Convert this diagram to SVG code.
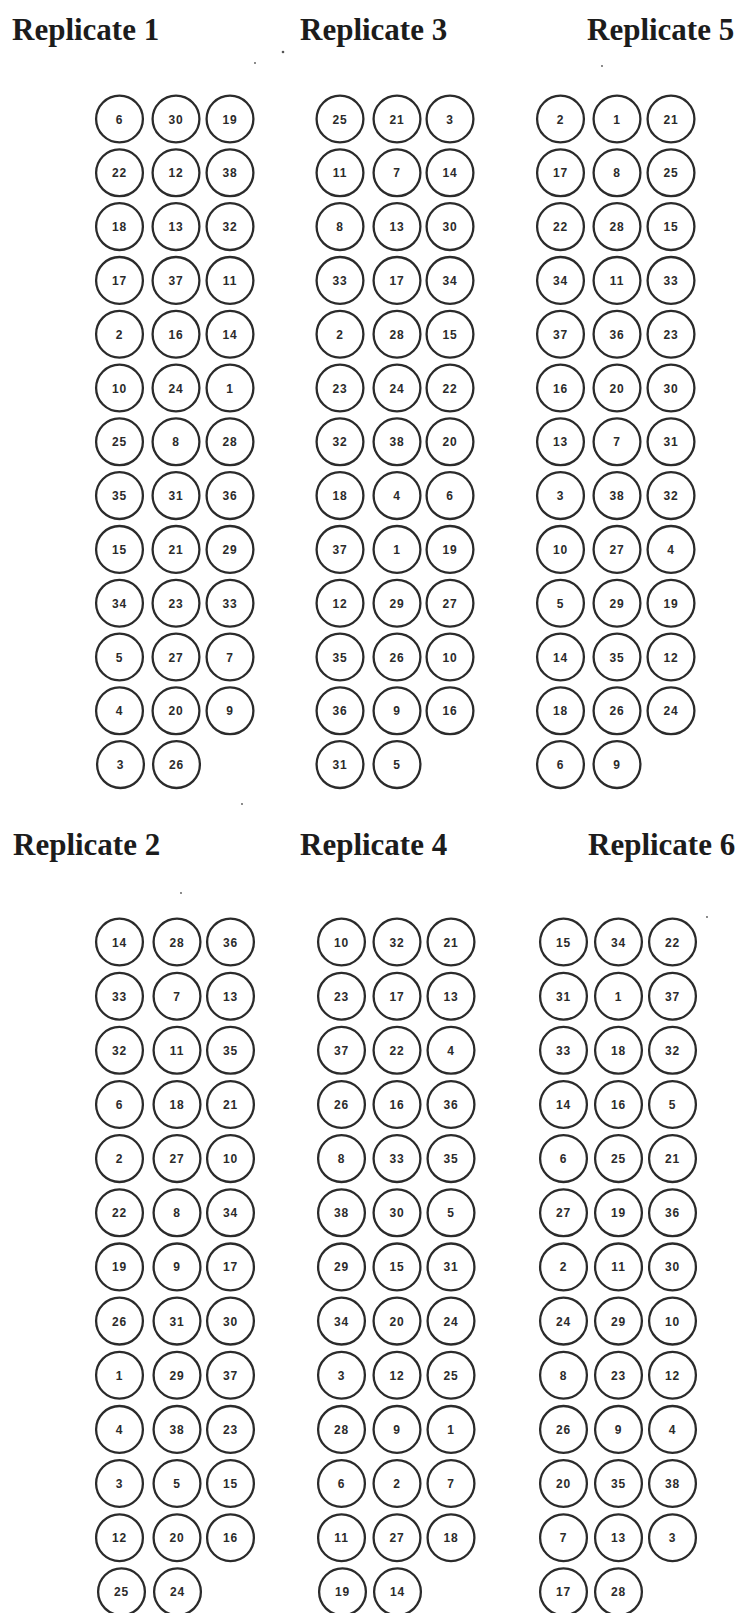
<svg xmlns="http://www.w3.org/2000/svg" width="740" height="1613" viewBox="0 0 740 1613">
<style>
.h{font-family:"Liberation Serif","Times New Roman",serif;font-weight:bold;font-size:31px;fill:#1c1c1c}
.n circle{fill:#fff;stroke:#2b2b2b;stroke-width:2.3}
.n text{font-family:"Liberation Sans",Arial,sans-serif;font-weight:bold;font-size:12px;fill:#2b2b2b;text-anchor:middle;letter-spacing:0.8px}
.dot{fill:#555}
</style>
<rect width="740" height="1613" fill="#fff"/>
<g id="headings">
<text class="h" x="12" y="40">Replicate 1</text>
<text class="h" x="300" y="40">Replicate 3</text>
<text class="h" x="587" y="40">Replicate 5</text>
<text class="h" x="13" y="855">Replicate 2</text>
<text class="h" x="300" y="855">Replicate 4</text>
<text class="h" x="588" y="855">Replicate 6</text>
</g>
<g id="specks">
<circle class="dot" cx="283" cy="52" r="1.3"/>
<circle class="dot" cx="255" cy="63" r="0.9"/>
<circle class="dot" cx="602" cy="66" r="0.9"/>
<circle class="dot" cx="242" cy="804" r="0.9"/>
<circle class="dot" cx="181" cy="893" r="0.9"/>
<circle class="dot" cx="707" cy="917" r="0.9"/>
</g>
<g id="connectors"></g>
<g id="replicate1">
<g id="r1-6" class="n" transform="translate(119.5,119)"><circle r="23.4"/><text y="4.5">6</text></g>
<g id="r1-30" class="n" transform="translate(176,119)"><circle r="23.4"/><text y="4.5">30</text></g>
<g id="r1-19" class="n" transform="translate(230,119)"><circle r="23.4"/><text y="4.5">19</text></g>
<g id="r1-22" class="n" transform="translate(119.5,172.8)"><circle r="23.4"/><text y="4.5">22</text></g>
<g id="r1-12" class="n" transform="translate(176,172.8)"><circle r="23.4"/><text y="4.5">12</text></g>
<g id="r1-38" class="n" transform="translate(230,172.8)"><circle r="23.4"/><text y="4.5">38</text></g>
<g id="r1-18" class="n" transform="translate(119.5,226.6)"><circle r="23.4"/><text y="4.5">18</text></g>
<g id="r1-13" class="n" transform="translate(176,226.6)"><circle r="23.4"/><text y="4.5">13</text></g>
<g id="r1-32" class="n" transform="translate(230,226.6)"><circle r="23.4"/><text y="4.5">32</text></g>
<g id="r1-17" class="n" transform="translate(119.5,280.4)"><circle r="23.4"/><text y="4.5">17</text></g>
<g id="r1-37" class="n" transform="translate(176,280.4)"><circle r="23.4"/><text y="4.5">37</text></g>
<g id="r1-11" class="n" transform="translate(230,280.4)"><circle r="23.4"/><text y="4.5">11</text></g>
<g id="r1-2" class="n" transform="translate(119.5,334.2)"><circle r="23.4"/><text y="4.5">2</text></g>
<g id="r1-16" class="n" transform="translate(176,334.2)"><circle r="23.4"/><text y="4.5">16</text></g>
<g id="r1-14" class="n" transform="translate(230,334.2)"><circle r="23.4"/><text y="4.5">14</text></g>
<g id="r1-10" class="n" transform="translate(119.5,388)"><circle r="23.4"/><text y="4.5">10</text></g>
<g id="r1-24" class="n" transform="translate(176,388)"><circle r="23.4"/><text y="4.5">24</text></g>
<g id="r1-1" class="n" transform="translate(230,388)"><circle r="23.4"/><text y="4.5">1</text></g>
<g id="r1-25" class="n" transform="translate(119.5,441.8)"><circle r="23.4"/><text y="4.5">25</text></g>
<g id="r1-8" class="n" transform="translate(176,441.8)"><circle r="23.4"/><text y="4.5">8</text></g>
<g id="r1-28" class="n" transform="translate(230,441.8)"><circle r="23.4"/><text y="4.5">28</text></g>
<g id="r1-35" class="n" transform="translate(119.5,495.6)"><circle r="23.4"/><text y="4.5">35</text></g>
<g id="r1-31" class="n" transform="translate(176,495.6)"><circle r="23.4"/><text y="4.5">31</text></g>
<g id="r1-36" class="n" transform="translate(230,495.6)"><circle r="23.4"/><text y="4.5">36</text></g>
<g id="r1-15" class="n" transform="translate(119.5,549.4)"><circle r="23.4"/><text y="4.5">15</text></g>
<g id="r1-21" class="n" transform="translate(176,549.4)"><circle r="23.4"/><text y="4.5">21</text></g>
<g id="r1-29" class="n" transform="translate(230,549.4)"><circle r="23.4"/><text y="4.5">29</text></g>
<g id="r1-34" class="n" transform="translate(119.5,603.2)"><circle r="23.4"/><text y="4.5">34</text></g>
<g id="r1-23" class="n" transform="translate(176,603.2)"><circle r="23.4"/><text y="4.5">23</text></g>
<g id="r1-33" class="n" transform="translate(230,603.2)"><circle r="23.4"/><text y="4.5">33</text></g>
<g id="r1-5" class="n" transform="translate(119.5,657)"><circle r="23.4"/><text y="4.5">5</text></g>
<g id="r1-27" class="n" transform="translate(176,657)"><circle r="23.4"/><text y="4.5">27</text></g>
<g id="r1-7" class="n" transform="translate(230,657)"><circle r="23.4"/><text y="4.5">7</text></g>
<g id="r1-4" class="n" transform="translate(119.5,710.8)"><circle r="23.4"/><text y="4.5">4</text></g>
<g id="r1-20" class="n" transform="translate(176,710.8)"><circle r="23.4"/><text y="4.5">20</text></g>
<g id="r1-9" class="n" transform="translate(230,710.8)"><circle r="23.4"/><text y="4.5">9</text></g>
<g id="r1-3" class="n" transform="translate(120.5,764.6)"><circle r="23.4"/><text y="4.5">3</text></g>
<g id="r1-26" class="n" transform="translate(176.5,764.6)"><circle r="23.4"/><text y="4.5">26</text></g>
</g>
<g id="replicate3">
<g id="r3-25" class="n" transform="translate(340,119)"><circle r="23.4"/><text y="4.5">25</text></g>
<g id="r3-21" class="n" transform="translate(397,119)"><circle r="23.4"/><text y="4.5">21</text></g>
<g id="r3-3" class="n" transform="translate(450,119)"><circle r="23.4"/><text y="4.5">3</text></g>
<g id="r3-11" class="n" transform="translate(340,172.8)"><circle r="23.4"/><text y="4.5">11</text></g>
<g id="r3-7" class="n" transform="translate(397,172.8)"><circle r="23.4"/><text y="4.5">7</text></g>
<g id="r3-14" class="n" transform="translate(450,172.8)"><circle r="23.4"/><text y="4.5">14</text></g>
<g id="r3-8" class="n" transform="translate(340,226.6)"><circle r="23.4"/><text y="4.5">8</text></g>
<g id="r3-13" class="n" transform="translate(397,226.6)"><circle r="23.4"/><text y="4.5">13</text></g>
<g id="r3-30" class="n" transform="translate(450,226.6)"><circle r="23.4"/><text y="4.5">30</text></g>
<g id="r3-33" class="n" transform="translate(340,280.4)"><circle r="23.4"/><text y="4.5">33</text></g>
<g id="r3-17" class="n" transform="translate(397,280.4)"><circle r="23.4"/><text y="4.5">17</text></g>
<g id="r3-34" class="n" transform="translate(450,280.4)"><circle r="23.4"/><text y="4.5">34</text></g>
<g id="r3-2" class="n" transform="translate(340,334.2)"><circle r="23.4"/><text y="4.5">2</text></g>
<g id="r3-28" class="n" transform="translate(397,334.2)"><circle r="23.4"/><text y="4.5">28</text></g>
<g id="r3-15" class="n" transform="translate(450,334.2)"><circle r="23.4"/><text y="4.5">15</text></g>
<g id="r3-23" class="n" transform="translate(340,388)"><circle r="23.4"/><text y="4.5">23</text></g>
<g id="r3-24" class="n" transform="translate(397,388)"><circle r="23.4"/><text y="4.5">24</text></g>
<g id="r3-22" class="n" transform="translate(450,388)"><circle r="23.4"/><text y="4.5">22</text></g>
<g id="r3-32" class="n" transform="translate(340,441.8)"><circle r="23.4"/><text y="4.5">32</text></g>
<g id="r3-38" class="n" transform="translate(397,441.8)"><circle r="23.4"/><text y="4.5">38</text></g>
<g id="r3-20" class="n" transform="translate(450,441.8)"><circle r="23.4"/><text y="4.5">20</text></g>
<g id="r3-18" class="n" transform="translate(340,495.6)"><circle r="23.4"/><text y="4.5">18</text></g>
<g id="r3-4" class="n" transform="translate(397,495.6)"><circle r="23.4"/><text y="4.5">4</text></g>
<g id="r3-6" class="n" transform="translate(450,495.6)"><circle r="23.4"/><text y="4.5">6</text></g>
<g id="r3-37" class="n" transform="translate(340,549.4)"><circle r="23.4"/><text y="4.5">37</text></g>
<g id="r3-1" class="n" transform="translate(397,549.4)"><circle r="23.4"/><text y="4.5">1</text></g>
<g id="r3-19" class="n" transform="translate(450,549.4)"><circle r="23.4"/><text y="4.5">19</text></g>
<g id="r3-12" class="n" transform="translate(340,603.2)"><circle r="23.4"/><text y="4.5">12</text></g>
<g id="r3-29" class="n" transform="translate(397,603.2)"><circle r="23.4"/><text y="4.5">29</text></g>
<g id="r3-27" class="n" transform="translate(450,603.2)"><circle r="23.4"/><text y="4.5">27</text></g>
<g id="r3-35" class="n" transform="translate(340,657)"><circle r="23.4"/><text y="4.5">35</text></g>
<g id="r3-26" class="n" transform="translate(397,657)"><circle r="23.4"/><text y="4.5">26</text></g>
<g id="r3-10" class="n" transform="translate(450,657)"><circle r="23.4"/><text y="4.5">10</text></g>
<g id="r3-36" class="n" transform="translate(340,710.8)"><circle r="23.4"/><text y="4.5">36</text></g>
<g id="r3-9" class="n" transform="translate(397,710.8)"><circle r="23.4"/><text y="4.5">9</text></g>
<g id="r3-16" class="n" transform="translate(450,710.8)"><circle r="23.4"/><text y="4.5">16</text></g>
<g id="r3-31" class="n" transform="translate(340,764.6)"><circle r="23.4"/><text y="4.5">31</text></g>
<g id="r3-5" class="n" transform="translate(397,764.6)"><circle r="23.4"/><text y="4.5">5</text></g>
</g>
<g id="replicate5">
<g id="r5-2" class="n" transform="translate(560.5,119)"><circle r="23.4"/><text y="4.5">2</text></g>
<g id="r5-1" class="n" transform="translate(617,119)"><circle r="23.4"/><text y="4.5">1</text></g>
<g id="r5-21" class="n" transform="translate(671,119)"><circle r="23.4"/><text y="4.5">21</text></g>
<g id="r5-17" class="n" transform="translate(560.5,172.8)"><circle r="23.4"/><text y="4.5">17</text></g>
<g id="r5-8" class="n" transform="translate(617,172.8)"><circle r="23.4"/><text y="4.5">8</text></g>
<g id="r5-25" class="n" transform="translate(671,172.8)"><circle r="23.4"/><text y="4.5">25</text></g>
<g id="r5-22" class="n" transform="translate(560.5,226.6)"><circle r="23.4"/><text y="4.5">22</text></g>
<g id="r5-28" class="n" transform="translate(617,226.6)"><circle r="23.4"/><text y="4.5">28</text></g>
<g id="r5-15" class="n" transform="translate(671,226.6)"><circle r="23.4"/><text y="4.5">15</text></g>
<g id="r5-34" class="n" transform="translate(560.5,280.4)"><circle r="23.4"/><text y="4.5">34</text></g>
<g id="r5-11" class="n" transform="translate(617,280.4)"><circle r="23.4"/><text y="4.5">11</text></g>
<g id="r5-33" class="n" transform="translate(671,280.4)"><circle r="23.4"/><text y="4.5">33</text></g>
<g id="r5-37" class="n" transform="translate(560.5,334.2)"><circle r="23.4"/><text y="4.5">37</text></g>
<g id="r5-36" class="n" transform="translate(617,334.2)"><circle r="23.4"/><text y="4.5">36</text></g>
<g id="r5-23" class="n" transform="translate(671,334.2)"><circle r="23.4"/><text y="4.5">23</text></g>
<g id="r5-16" class="n" transform="translate(560.5,388)"><circle r="23.4"/><text y="4.5">16</text></g>
<g id="r5-20" class="n" transform="translate(617,388)"><circle r="23.4"/><text y="4.5">20</text></g>
<g id="r5-30" class="n" transform="translate(671,388)"><circle r="23.4"/><text y="4.5">30</text></g>
<g id="r5-13" class="n" transform="translate(560.5,441.8)"><circle r="23.4"/><text y="4.5">13</text></g>
<g id="r5-7" class="n" transform="translate(617,441.8)"><circle r="23.4"/><text y="4.5">7</text></g>
<g id="r5-31" class="n" transform="translate(671,441.8)"><circle r="23.4"/><text y="4.5">31</text></g>
<g id="r5-3" class="n" transform="translate(560.5,495.6)"><circle r="23.4"/><text y="4.5">3</text></g>
<g id="r5-38" class="n" transform="translate(617,495.6)"><circle r="23.4"/><text y="4.5">38</text></g>
<g id="r5-32" class="n" transform="translate(671,495.6)"><circle r="23.4"/><text y="4.5">32</text></g>
<g id="r5-10" class="n" transform="translate(560.5,549.4)"><circle r="23.4"/><text y="4.5">10</text></g>
<g id="r5-27" class="n" transform="translate(617,549.4)"><circle r="23.4"/><text y="4.5">27</text></g>
<g id="r5-4" class="n" transform="translate(671,549.4)"><circle r="23.4"/><text y="4.5">4</text></g>
<g id="r5-5" class="n" transform="translate(560.5,603.2)"><circle r="23.4"/><text y="4.5">5</text></g>
<g id="r5-29" class="n" transform="translate(617,603.2)"><circle r="23.4"/><text y="4.5">29</text></g>
<g id="r5-19" class="n" transform="translate(671,603.2)"><circle r="23.4"/><text y="4.5">19</text></g>
<g id="r5-14" class="n" transform="translate(560.5,657)"><circle r="23.4"/><text y="4.5">14</text></g>
<g id="r5-35" class="n" transform="translate(617,657)"><circle r="23.4"/><text y="4.5">35</text></g>
<g id="r5-12" class="n" transform="translate(671,657)"><circle r="23.4"/><text y="4.5">12</text></g>
<g id="r5-18" class="n" transform="translate(560.5,710.8)"><circle r="23.4"/><text y="4.5">18</text></g>
<g id="r5-26" class="n" transform="translate(617,710.8)"><circle r="23.4"/><text y="4.5">26</text></g>
<g id="r5-24" class="n" transform="translate(671,710.8)"><circle r="23.4"/><text y="4.5">24</text></g>
<g id="r5-6" class="n" transform="translate(560.5,764.6)"><circle r="23.4"/><text y="4.5">6</text></g>
<g id="r5-9" class="n" transform="translate(617,764.6)"><circle r="23.4"/><text y="4.5">9</text></g>
</g>
<g id="replicate2">
<g id="r2-14" class="n" transform="translate(119.5,942)"><circle r="23.4"/><text y="4.5">14</text></g>
<g id="r2-28" class="n" transform="translate(177,942)"><circle r="23.4"/><text y="4.5">28</text></g>
<g id="r2-36" class="n" transform="translate(230.5,942)"><circle r="23.4"/><text y="4.5">36</text></g>
<g id="r2-33" class="n" transform="translate(119.5,996.2)"><circle r="23.4"/><text y="4.5">33</text></g>
<g id="r2-7" class="n" transform="translate(177,996.2)"><circle r="23.4"/><text y="4.5">7</text></g>
<g id="r2-13" class="n" transform="translate(230.5,996.2)"><circle r="23.4"/><text y="4.5">13</text></g>
<g id="r2-32" class="n" transform="translate(119.5,1050.3)"><circle r="23.4"/><text y="4.5">32</text></g>
<g id="r2-11" class="n" transform="translate(177,1050.3)"><circle r="23.4"/><text y="4.5">11</text></g>
<g id="r2-35" class="n" transform="translate(230.5,1050.3)"><circle r="23.4"/><text y="4.5">35</text></g>
<g id="r2-6" class="n" transform="translate(119.5,1104.5)"><circle r="23.4"/><text y="4.5">6</text></g>
<g id="r2-18" class="n" transform="translate(177,1104.5)"><circle r="23.4"/><text y="4.5">18</text></g>
<g id="r2-21" class="n" transform="translate(230.5,1104.5)"><circle r="23.4"/><text y="4.5">21</text></g>
<g id="r2-2" class="n" transform="translate(119.5,1158.6)"><circle r="23.4"/><text y="4.5">2</text></g>
<g id="r2-27" class="n" transform="translate(177,1158.6)"><circle r="23.4"/><text y="4.5">27</text></g>
<g id="r2-10" class="n" transform="translate(230.5,1158.6)"><circle r="23.4"/><text y="4.5">10</text></g>
<g id="r2-22" class="n" transform="translate(119.5,1212.8)"><circle r="23.4"/><text y="4.5">22</text></g>
<g id="r2-8" class="n" transform="translate(177,1212.8)"><circle r="23.4"/><text y="4.5">8</text></g>
<g id="r2-34" class="n" transform="translate(230.5,1212.8)"><circle r="23.4"/><text y="4.5">34</text></g>
<g id="r2-19" class="n" transform="translate(119.5,1266.9)"><circle r="23.4"/><text y="4.5">19</text></g>
<g id="r2-9" class="n" transform="translate(177,1266.9)"><circle r="23.4"/><text y="4.5">9</text></g>
<g id="r2-17" class="n" transform="translate(230.5,1266.9)"><circle r="23.4"/><text y="4.5">17</text></g>
<g id="r2-26" class="n" transform="translate(119.5,1321.1)"><circle r="23.4"/><text y="4.5">26</text></g>
<g id="r2-31" class="n" transform="translate(177,1321.1)"><circle r="23.4"/><text y="4.5">31</text></g>
<g id="r2-30" class="n" transform="translate(230.5,1321.1)"><circle r="23.4"/><text y="4.5">30</text></g>
<g id="r2-1" class="n" transform="translate(119.5,1375.2)"><circle r="23.4"/><text y="4.5">1</text></g>
<g id="r2-29" class="n" transform="translate(177,1375.2)"><circle r="23.4"/><text y="4.5">29</text></g>
<g id="r2-37" class="n" transform="translate(230.5,1375.2)"><circle r="23.4"/><text y="4.5">37</text></g>
<g id="r2-4" class="n" transform="translate(119.5,1429.4)"><circle r="23.4"/><text y="4.5">4</text></g>
<g id="r2-38" class="n" transform="translate(177,1429.4)"><circle r="23.4"/><text y="4.5">38</text></g>
<g id="r2-23" class="n" transform="translate(230.5,1429.4)"><circle r="23.4"/><text y="4.5">23</text></g>
<g id="r2-3" class="n" transform="translate(119.5,1483.5)"><circle r="23.4"/><text y="4.5">3</text></g>
<g id="r2-5" class="n" transform="translate(177,1483.5)"><circle r="23.4"/><text y="4.5">5</text></g>
<g id="r2-15" class="n" transform="translate(230.5,1483.5)"><circle r="23.4"/><text y="4.5">15</text></g>
<g id="r2-12" class="n" transform="translate(119.5,1537.7)"><circle r="23.4"/><text y="4.5">12</text></g>
<g id="r2-20" class="n" transform="translate(177,1537.7)"><circle r="23.4"/><text y="4.5">20</text></g>
<g id="r2-16" class="n" transform="translate(230.5,1537.7)"><circle r="23.4"/><text y="4.5">16</text></g>
<g id="r2-25" class="n" transform="translate(121.5,1591.8)"><circle r="23.4"/><text y="4.5">25</text></g>
<g id="r2-24" class="n" transform="translate(177.5,1591.8)"><circle r="23.4"/><text y="4.5">24</text></g>
</g>
<g id="replicate4">
<g id="r4-10" class="n" transform="translate(341.5,942)"><circle r="23.4"/><text y="4.5">10</text></g>
<g id="r4-32" class="n" transform="translate(397,942)"><circle r="23.4"/><text y="4.5">32</text></g>
<g id="r4-21" class="n" transform="translate(451,942)"><circle r="23.4"/><text y="4.5">21</text></g>
<g id="r4-23" class="n" transform="translate(341.5,996.2)"><circle r="23.4"/><text y="4.5">23</text></g>
<g id="r4-17" class="n" transform="translate(397,996.2)"><circle r="23.4"/><text y="4.5">17</text></g>
<g id="r4-13" class="n" transform="translate(451,996.2)"><circle r="23.4"/><text y="4.5">13</text></g>
<g id="r4-37" class="n" transform="translate(341.5,1050.3)"><circle r="23.4"/><text y="4.5">37</text></g>
<g id="r4-22" class="n" transform="translate(397,1050.3)"><circle r="23.4"/><text y="4.5">22</text></g>
<g id="r4-4" class="n" transform="translate(451,1050.3)"><circle r="23.4"/><text y="4.5">4</text></g>
<g id="r4-26" class="n" transform="translate(341.5,1104.5)"><circle r="23.4"/><text y="4.5">26</text></g>
<g id="r4-16" class="n" transform="translate(397,1104.5)"><circle r="23.4"/><text y="4.5">16</text></g>
<g id="r4-36" class="n" transform="translate(451,1104.5)"><circle r="23.4"/><text y="4.5">36</text></g>
<g id="r4-8" class="n" transform="translate(341.5,1158.6)"><circle r="23.4"/><text y="4.5">8</text></g>
<g id="r4-33" class="n" transform="translate(397,1158.6)"><circle r="23.4"/><text y="4.5">33</text></g>
<g id="r4-35" class="n" transform="translate(451,1158.6)"><circle r="23.4"/><text y="4.5">35</text></g>
<g id="r4-38" class="n" transform="translate(341.5,1212.8)"><circle r="23.4"/><text y="4.5">38</text></g>
<g id="r4-30" class="n" transform="translate(397,1212.8)"><circle r="23.4"/><text y="4.5">30</text></g>
<g id="r4-5" class="n" transform="translate(451,1212.8)"><circle r="23.4"/><text y="4.5">5</text></g>
<g id="r4-29" class="n" transform="translate(341.5,1266.9)"><circle r="23.4"/><text y="4.5">29</text></g>
<g id="r4-15" class="n" transform="translate(397,1266.9)"><circle r="23.4"/><text y="4.5">15</text></g>
<g id="r4-31" class="n" transform="translate(451,1266.9)"><circle r="23.4"/><text y="4.5">31</text></g>
<g id="r4-34" class="n" transform="translate(341.5,1321.1)"><circle r="23.4"/><text y="4.5">34</text></g>
<g id="r4-20" class="n" transform="translate(397,1321.1)"><circle r="23.4"/><text y="4.5">20</text></g>
<g id="r4-24" class="n" transform="translate(451,1321.1)"><circle r="23.4"/><text y="4.5">24</text></g>
<g id="r4-3" class="n" transform="translate(341.5,1375.2)"><circle r="23.4"/><text y="4.5">3</text></g>
<g id="r4-12" class="n" transform="translate(397,1375.2)"><circle r="23.4"/><text y="4.5">12</text></g>
<g id="r4-25" class="n" transform="translate(451,1375.2)"><circle r="23.4"/><text y="4.5">25</text></g>
<g id="r4-28" class="n" transform="translate(341.5,1429.4)"><circle r="23.4"/><text y="4.5">28</text></g>
<g id="r4-9" class="n" transform="translate(397,1429.4)"><circle r="23.4"/><text y="4.5">9</text></g>
<g id="r4-1" class="n" transform="translate(451,1429.4)"><circle r="23.4"/><text y="4.5">1</text></g>
<g id="r4-6" class="n" transform="translate(341.5,1483.5)"><circle r="23.4"/><text y="4.5">6</text></g>
<g id="r4-2" class="n" transform="translate(397,1483.5)"><circle r="23.4"/><text y="4.5">2</text></g>
<g id="r4-7" class="n" transform="translate(451,1483.5)"><circle r="23.4"/><text y="4.5">7</text></g>
<g id="r4-11" class="n" transform="translate(341.5,1537.7)"><circle r="23.4"/><text y="4.5">11</text></g>
<g id="r4-27" class="n" transform="translate(397,1537.7)"><circle r="23.4"/><text y="4.5">27</text></g>
<g id="r4-18" class="n" transform="translate(451,1537.7)"><circle r="23.4"/><text y="4.5">18</text></g>
<g id="r4-19" class="n" transform="translate(342.5,1591.8)"><circle r="23.4"/><text y="4.5">19</text></g>
<g id="r4-14" class="n" transform="translate(397.5,1591.8)"><circle r="23.4"/><text y="4.5">14</text></g>
</g>
<g id="replicate6">
<g id="r6-15" class="n" transform="translate(563.5,942)"><circle r="23.4"/><text y="4.5">15</text></g>
<g id="r6-34" class="n" transform="translate(618.5,942)"><circle r="23.4"/><text y="4.5">34</text></g>
<g id="r6-22" class="n" transform="translate(672.5,942)"><circle r="23.4"/><text y="4.5">22</text></g>
<g id="r6-31" class="n" transform="translate(563.5,996.2)"><circle r="23.4"/><text y="4.5">31</text></g>
<g id="r6-1" class="n" transform="translate(618.5,996.2)"><circle r="23.4"/><text y="4.5">1</text></g>
<g id="r6-37" class="n" transform="translate(672.5,996.2)"><circle r="23.4"/><text y="4.5">37</text></g>
<g id="r6-33" class="n" transform="translate(563.5,1050.3)"><circle r="23.4"/><text y="4.5">33</text></g>
<g id="r6-18" class="n" transform="translate(618.5,1050.3)"><circle r="23.4"/><text y="4.5">18</text></g>
<g id="r6-32" class="n" transform="translate(672.5,1050.3)"><circle r="23.4"/><text y="4.5">32</text></g>
<g id="r6-14" class="n" transform="translate(563.5,1104.5)"><circle r="23.4"/><text y="4.5">14</text></g>
<g id="r6-16" class="n" transform="translate(618.5,1104.5)"><circle r="23.4"/><text y="4.5">16</text></g>
<g id="r6-5" class="n" transform="translate(672.5,1104.5)"><circle r="23.4"/><text y="4.5">5</text></g>
<g id="r6-6" class="n" transform="translate(563.5,1158.6)"><circle r="23.4"/><text y="4.5">6</text></g>
<g id="r6-25" class="n" transform="translate(618.5,1158.6)"><circle r="23.4"/><text y="4.5">25</text></g>
<g id="r6-21" class="n" transform="translate(672.5,1158.6)"><circle r="23.4"/><text y="4.5">21</text></g>
<g id="r6-27" class="n" transform="translate(563.5,1212.8)"><circle r="23.4"/><text y="4.5">27</text></g>
<g id="r6-19" class="n" transform="translate(618.5,1212.8)"><circle r="23.4"/><text y="4.5">19</text></g>
<g id="r6-36" class="n" transform="translate(672.5,1212.8)"><circle r="23.4"/><text y="4.5">36</text></g>
<g id="r6-2" class="n" transform="translate(563.5,1266.9)"><circle r="23.4"/><text y="4.5">2</text></g>
<g id="r6-11" class="n" transform="translate(618.5,1266.9)"><circle r="23.4"/><text y="4.5">11</text></g>
<g id="r6-30" class="n" transform="translate(672.5,1266.9)"><circle r="23.4"/><text y="4.5">30</text></g>
<g id="r6-24" class="n" transform="translate(563.5,1321.1)"><circle r="23.4"/><text y="4.5">24</text></g>
<g id="r6-29" class="n" transform="translate(618.5,1321.1)"><circle r="23.4"/><text y="4.5">29</text></g>
<g id="r6-10" class="n" transform="translate(672.5,1321.1)"><circle r="23.4"/><text y="4.5">10</text></g>
<g id="r6-8" class="n" transform="translate(563.5,1375.2)"><circle r="23.4"/><text y="4.5">8</text></g>
<g id="r6-23" class="n" transform="translate(618.5,1375.2)"><circle r="23.4"/><text y="4.5">23</text></g>
<g id="r6-12" class="n" transform="translate(672.5,1375.2)"><circle r="23.4"/><text y="4.5">12</text></g>
<g id="r6-26" class="n" transform="translate(563.5,1429.4)"><circle r="23.4"/><text y="4.5">26</text></g>
<g id="r6-9" class="n" transform="translate(618.5,1429.4)"><circle r="23.4"/><text y="4.5">9</text></g>
<g id="r6-4" class="n" transform="translate(672.5,1429.4)"><circle r="23.4"/><text y="4.5">4</text></g>
<g id="r6-20" class="n" transform="translate(563.5,1483.5)"><circle r="23.4"/><text y="4.5">20</text></g>
<g id="r6-35" class="n" transform="translate(618.5,1483.5)"><circle r="23.4"/><text y="4.5">35</text></g>
<g id="r6-38" class="n" transform="translate(672.5,1483.5)"><circle r="23.4"/><text y="4.5">38</text></g>
<g id="r6-7" class="n" transform="translate(563.5,1537.7)"><circle r="23.4"/><text y="4.5">7</text></g>
<g id="r6-13" class="n" transform="translate(618.5,1537.7)"><circle r="23.4"/><text y="4.5">13</text></g>
<g id="r6-3" class="n" transform="translate(672.5,1537.7)"><circle r="23.4"/><text y="4.5">3</text></g>
<g id="r6-17" class="n" transform="translate(563.5,1591.8)"><circle r="23.4"/><text y="4.5">17</text></g>
<g id="r6-28" class="n" transform="translate(618.5,1591.8)"><circle r="23.4"/><text y="4.5">28</text></g>
</g>
</svg>
